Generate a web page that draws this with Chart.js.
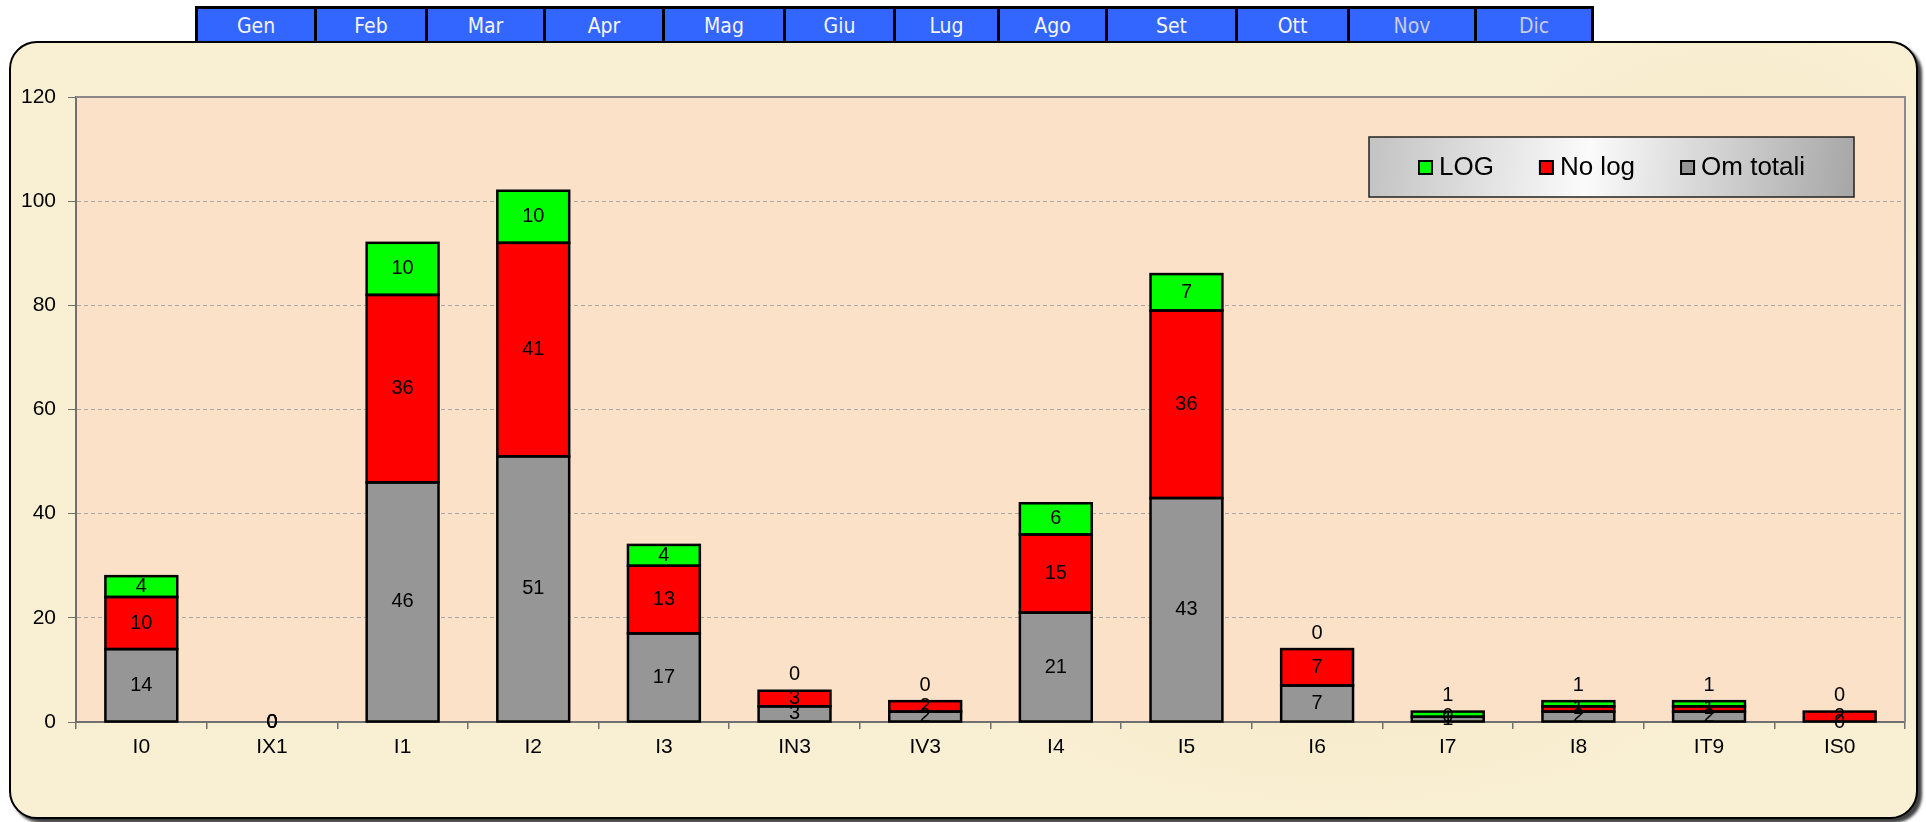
<!DOCTYPE html>
<html>
<head>
<meta charset="utf-8">
<script src="https://cdn.jsdelivr.net/npm/chart.js@4"></script>
<style>
  html, body { margin: 0; padding: 0; background: #fff; }
  body { width: 1926px; height: 822px; position: relative; overflow: hidden; }
  #tabs { position: absolute; left: 195px; top: 6px; height: 35px; display: flex;
          border-top: 3px solid #000; border-right: 3px solid #000; box-sizing: border-box; }
  .tab { height: 32px; background: #3366ff; border-left: 3px solid #000; box-sizing: border-box;
         color: #f4f4f4; font: 21px 'DejaVu Sans Condensed', 'Liberation Sans Narrow', sans-serif;
         text-align: center; line-height: 35px; }
  .tab.off { color: #c9cce0; }
  #panel { position: absolute; left: 9px; top: 41px; width: 1909px; height: 778px; box-sizing: border-box;
           border: 2px solid #000; border-radius: 28px;
           box-shadow: 4px 4px 3px rgba(0,0,0,0.75);
           background:
             radial-gradient(ellipse 300px 120px at 20% 30%, rgba(255,250,235,0.6), rgba(255,250,235,0)),
             radial-gradient(ellipse 400px 160px at 70% 80%, rgba(240,225,180,0.35), rgba(240,225,180,0)),
             radial-gradient(ellipse 350px 140px at 45% 60%, rgba(255,248,228,0.5), rgba(255,248,228,0)),
             radial-gradient(ellipse 260px 200px at 90% 20%, rgba(238,222,178,0.3), rgba(238,222,178,0)),
             #f9efd3; }
  #chart { position: absolute; left: 0; top: 0; }
</style>
</head>
<body>
<div id="tabs">
  <div class="tab" style="width:119px">Gen</div>
  <div class="tab" style="width:111px">Feb</div>
  <div class="tab" style="width:118px">Mar</div>
  <div class="tab" style="width:119px">Apr</div>
  <div class="tab" style="width:121px">Mag</div>
  <div class="tab" style="width:110px">Giu</div>
  <div class="tab" style="width:104px">Lug</div>
  <div class="tab" style="width:108px">Ago</div>
  <div class="tab" style="width:130px">Set</div>
  <div class="tab" style="width:112px">Ott</div>
  <div class="tab off" style="width:127px">Nov</div>
  <div class="tab off" style="width:117px">Dic</div>
</div>
<div id="panel"></div>
<canvas id="chart" width="1926" height="822"></canvas>
<script>
const categories = ['I0', 'IX1', 'I1', 'I2', 'I3', 'IN3', 'IV3', 'I4', 'I5', 'I6', 'I7', 'I8', 'IT9', 'IS0'];
const omTotali = [14, 0, 46, 51, 17, 3, 2, 21, 43, 7, 1, 2, 2, 0];
const noLog    = [10, 0, 36, 41, 13, 3, 2, 15, 36, 7, 0, 1, 1, 2];
const logVals  = [4, 0, 10, 10, 4, 0, 0, 6, 7, 0, 1, 1, 1, 0];
const yMax = 120;
const yStep = 20;

const FONT = "'Liberation Sans', Arial, sans-serif";

// plot area fill + frame
const plotBg = {
  id: 'plotBg',
  beforeDraw(chart) {
    const { ctx, chartArea: a } = chart;
    ctx.save();
    ctx.fillStyle = '#fbe1c8';
    ctx.fillRect(a.left, a.top, a.right - a.left, a.bottom - a.top);
    ctx.restore();
  },
  beforeDatasetsDraw(chart) {
    const { ctx, chartArea: a } = chart;
    ctx.save();
    ctx.strokeStyle = '#8a8a8a';
    ctx.lineWidth = 2;
    ctx.beginPath();
    ctx.moveTo(a.left, a.top);
    ctx.lineTo(a.right, a.top);
    ctx.lineTo(a.right, a.bottom);
    ctx.stroke();
    ctx.restore();
  }
};

// one shared outline per segment edge (excel style), then value labels
const segLabels = {
  id: 'segLabels',
  afterDatasetsDraw(chart) {
    const { ctx } = chart;
    ctx.save();
    ctx.strokeStyle = '#000';
    ctx.lineWidth = 2.5;
    chart.data.datasets.forEach((ds, di) => {
      chart.getDatasetMeta(di).data.forEach((bar, i) => {
        if (!ds.data[i]) return;
        const { x, y, base, width } = bar.getProps(['x', 'y', 'base', 'width'], true);
        ctx.strokeRect(x - width / 2, y, width, base - y);
      });
    });

    ctx.font = '20px ' + FONT;
    ctx.fillStyle = '#000';
    ctx.textAlign = 'center';
    ctx.textBaseline = 'middle';
    chart.data.datasets.forEach((ds, di) => {
      const meta = chart.getDatasetMeta(di);
      meta.data.forEach((bar, i) => {
        const v = ds.data[i];
        let y = (bar.y + bar.base) / 2;
        const total = omTotali[i] + noLog[i] + logVals[i];
        if (di === 2 && total > 0 && Math.abs(bar.base - bar.y) < 20) y = bar.y - 16;
        ctx.fillText(String(v), bar.x, y);
      });
    });
    ctx.restore();
  }
};

// boxed legend inside the plot
const boxLegend = {
  id: 'boxLegend',
  afterDraw(chart) {
    const { ctx } = chart;
    const bx = 1369, by = 137, bw = 485, bh = 60;
    ctx.save();
    const g = ctx.createLinearGradient(bx, by, bx + bw, by + bh);
    g.addColorStop(0, '#c2c2c2');
    g.addColorStop(0.45, '#fbfbfb');
    g.addColorStop(1, '#a6a6a6');
    ctx.fillStyle = g;
    ctx.fillRect(bx, by, bw, bh);
    ctx.strokeStyle = '#222';
    ctx.lineWidth = 1.5;
    ctx.strokeRect(bx, by, bw, bh);
    ctx.font = '26px ' + FONT;
    ctx.textBaseline = 'middle';
    ctx.textAlign = 'left';
    let x = 1419;
    const cy = by + bh / 2;
    chart.data.datasets.slice().reverse().forEach(ds => {
      ctx.fillStyle = ds.backgroundColor;
      ctx.fillRect(x, cy - 6, 13, 13);
      ctx.strokeStyle = '#000';
      ctx.lineWidth = 2;
      ctx.strokeRect(x, cy - 6, 13, 13);
      ctx.fillStyle = '#000';
      ctx.fillText(ds.label, x + 20, cy + 1);
      x += 20 + ctx.measureText(ds.label).width + 46;
    });
    ctx.restore();
  }
};

const tickFont = { family: FONT, size: 21 };

new Chart(document.getElementById('chart'), {
  type: 'bar',
  data: {
    labels: categories,
    datasets: [
      { label: 'Om totali', data: omTotali, backgroundColor: '#969696' },
      { label: 'No log', data: noLog, backgroundColor: '#ff0000' },
      { label: 'LOG', data: logVals, backgroundColor: '#00ff00' }
    ].map(d => Object.assign(d, {
      borderWidth: 0, barPercentage: 0.55, categoryPercentage: 1
    }))
  },
  options: {
    responsive: false,
    animation: false,
    layout: { padding: { top: 97, right: 21, left: 0, bottom: 0 } },
    plugins: { legend: { display: false }, tooltip: { enabled: false } },
    scales: {
      x: {
        stacked: true,
        grid: { offset: true, drawOnChartArea: false, tickLength: 7, color: '#707070', lineWidth: 1.5 },
        border: { color: '#707070', width: 2 },
        ticks: { padding: 6, color: '#000', font: tickFont },
        afterFit: s => { s.height = 100; }
      },
      y: {
        stacked: true,
        min: 0, max: yMax,
        grid: { color: '#a8a8a8', lineWidth: 1, tickLength: 8, tickColor: '#707070', tickBorderDash: [] },
        border: { color: '#707070', width: 2, dash: [4, 3] },
        ticks: { stepSize: yStep, padding: 12, color: '#000', font: tickFont },
        afterFit: s => { s.width = 76; }
      }
    }
  },
  plugins: [plotBg, segLabels, boxLegend]
});
</script>
</body>
</html>
